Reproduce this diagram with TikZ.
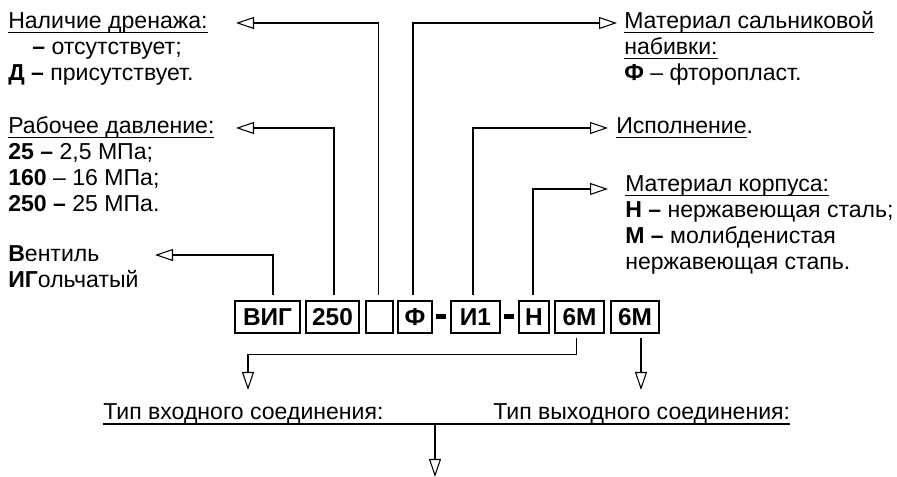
\documentclass[tikz,border=0pt]{standalone}
\usepackage{fontspec}
\setmainfont{Liberation Sans}
\usetikzlibrary{arrows.meta}
\newcommand{\fs}{\fontsize{17.3pt}{19.5pt}\selectfont}
\newcommand{\undl}[1]{\setbox0\hbox{#1}\rlap{\vrule height -2.4pt depth 3.3pt width \wd0}\box0}
\newcommand{\rows}[1]{\vtop{\baselineskip=19.5pt\halign{##\hfil\cr#1\crcr}}}
\tikzset{
  lead/.style={line width=0.8pt,-{Triangle[open,length=13.5pt,width=9pt,line width=0.8pt]}},
  wire/.style={line width=0.8pt},
  code/.style={draw,line width=0.9pt,minimum height=24pt,inner sep=0pt,font=\fontsize{18.3pt}{20pt}\selectfont\bfseries},
  hyph/.style={fill,minimum width=7.5pt,minimum height=3.75pt,inner sep=0pt},
  txt/.style={anchor=base west,inner sep=0pt,font=\fs}
}

\begin{document}
\begin{tikzpicture}[x=0.75pt,y=-0.75pt]
  \useasboundingbox (0,0) rectangle (897,477);
  % code boxes
  \node[code,minimum width=48.75pt] (vig) at (267.5,317) {ВИГ};
  \node[code,minimum width=39.75pt] (prs) at (332.5,317) {250};
  \node[code,minimum width=20.25pt] (drn) at (379.5,317) {};
  \node[code,minimum width=25.5pt] (seal) at (415,317) {Ф};
  \node[hyph] (h1) at (441,316.5) {};
  \node[code,minimum width=36.75pt] (isp) at (475.5,317) {И1};
  \node[hyph] (h2) at (509,316.5) {};
  \node[code,minimum width=22.5pt] (body) at (534,317) {Н};
  \node[code,minimum width=36.75pt] (in) at (579.5,317) {6М};
  \node[code,minimum width=36pt] (out) at (635,317) {6М};

  % descriptions
  \node[txt] (tdrn) at (8,29) {\rows{\undl{Наличие дренажа:}\cr
    \hspace{18pt}\textbf{–} отсутствует;\cr \textbf{Д –} присутствует.}};
  \node[txt] (tprs) at (8,134) {\rows{\undl{Рабочее давление:}\cr
    \textbf{25 –} 2,5 МПа;\cr \textbf{160} – 16 МПа;\cr \textbf{250 –} 25 МПа.}};
  \node[txt] (tvig) at (8,262) {\rows{\textbf{В}ентиль\cr \textbf{ИГ}ольчатый}};
  \node[txt] (tseal) at (624,29) {\rows{\undl{Материал сальниковой}\cr
    \undl{набивки:}\cr \textbf{Ф} – фторопласт.}};
  \node[txt] (tisp) at (616,134) {\undl{Исполнение}.};
  \node[txt] (tbody) at (625,192) {\rows{\undl{Материал корпуса:}\cr
    \textbf{Н –} нержавеющая сталь;\cr \textbf{М –} молибденистая\cr нержавеющая стапь.}};
  \node[txt] (tin) at (103,420) {Тип входного соединения:};
  \node[txt] (tout) at (493,420) {Тип выходного соединения:};

  % arrow tips
  \coordinate (aDrn) at (236,23); \coordinate (aPrs) at (236,128); \coordinate (aVig) at (155,255);
  \coordinate (aSeal) at (617,23); \coordinate (aIsp) at (608,128); \coordinate (aBody) at (608,189);
  \coordinate (aIn) at (248,390); \coordinate (aOut) at (641,390);
  \coordinate (jn) at (435,424); \coordinate (aConn) at (435,477);

  % leads
  \draw[lead] ([xshift=4.1pt,yshift=3.75pt]vig.north) |- (aVig);
  \draw[lead] ([xshift=1.1pt,yshift=3.75pt]prs.north) |- (aPrs);
  \draw[lead] ([xshift=-1.1pt,yshift=3.75pt]drn.north) |- (aDrn);
  \draw[lead] ([xshift=-1.5pt,yshift=3.75pt]seal.north) |- (aSeal);
  \draw[lead] ([xshift=-1.9pt,yshift=3.75pt]isp.north) |- (aIsp);
  \draw[lead] ([xshift=-0.75pt,yshift=3.75pt]body.north) |- (aBody);
  \draw[lead] ([xshift=-2.6pt,yshift=-3pt]in.south) -- ++(0,17) -| (aIn);
  \draw[lead] ([xshift=4.5pt,yshift=-3pt]out.south) -- (aOut);
  \draw[wire] ([yshift=-3pt]tin.base west) -- ([yshift=-3pt]tout.base east);
  \draw[lead] (jn) -- (aConn);
\end{tikzpicture}
\end{document}
